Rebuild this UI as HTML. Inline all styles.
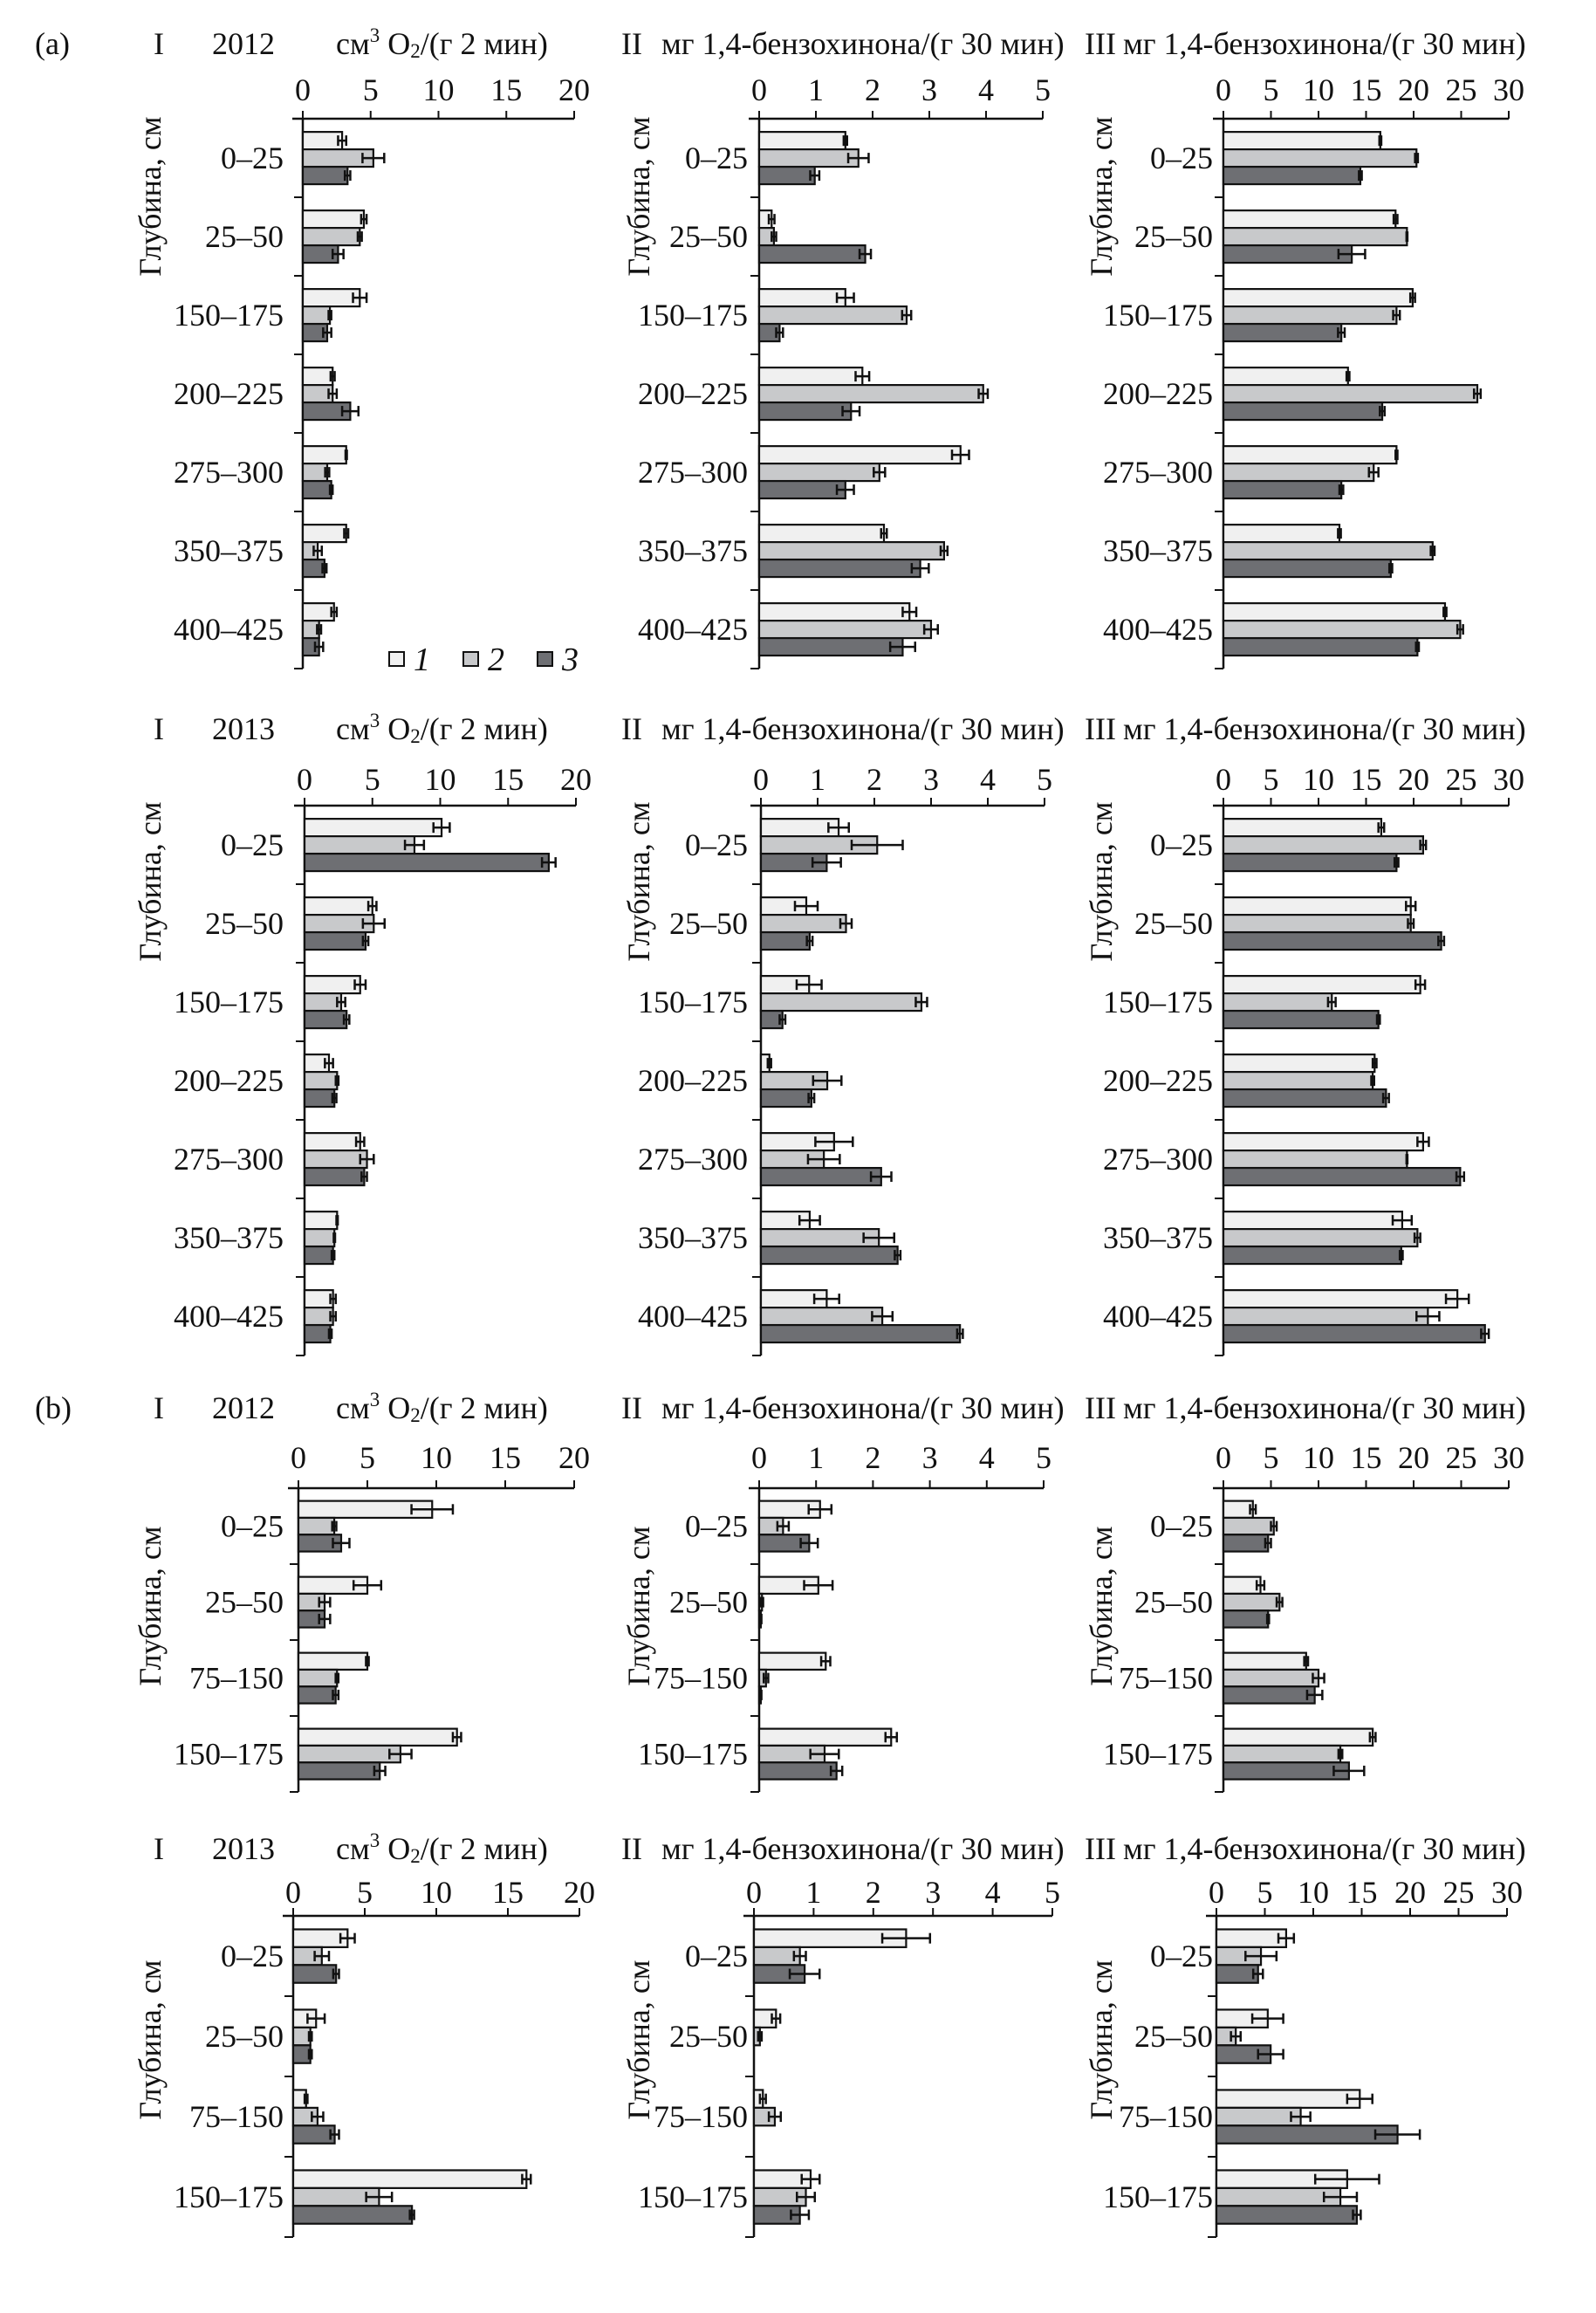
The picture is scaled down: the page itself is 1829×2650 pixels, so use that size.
<!DOCTYPE html>
<html><head><meta charset="utf-8">
<style>
html,body{margin:0;padding:0;background:#fff;}
svg{display:block;}
text{font-family:"Liberation Serif","DejaVu Serif",serif;fill:#111;}
</style></head>
<body>
<svg id="fig" width="1829" height="2650" viewBox="0 0 1829 2650" xmlns="http://www.w3.org/2000/svg"></svg>
<script>
// ---- categories ----
const catsA = ["0–25","25–50","150–175","200–225","275–300","350–375","400–425"];
const catsB = ["0–25","25–50","75–150","150–175"];
// ---- axis ticks ----
const ticksI = [0,5,10,15,20];
const ticksII = [0,1,2,3,4,5];
const ticksIII = [0,5,10,15,20,25,30];

// ---- (a) 2012 ----
const a12_I_v1 = [2.9,4.5,4.2,2.2,3.2,3.2,2.3];
const a12_I_v2 = [5.2,4.2,2.0,2.2,1.8,1.1,1.2];
const a12_I_v3 = [3.3,2.6,1.8,3.5,2.1,1.6,1.2];
const a12_I_e1 = [0.3,0.2,0.5,0.15,0.05,0.15,0.2];
const a12_I_e2 = [0.8,0.15,0.1,0.3,0.15,0.3,0.15];
const a12_I_e3 = [0.2,0.4,0.3,0.6,0.1,0.15,0.3];
const a12_II_v1 = [1.52,0.22,1.52,1.82,3.55,2.2,2.65];
const a12_II_v2 = [1.75,0.26,2.6,3.95,2.12,3.26,3.03];
const a12_II_v3 = [0.98,1.87,0.36,1.62,1.52,2.84,2.53];
const a12_II_e1 = [0.03,0.05,0.15,0.12,0.15,0.05,0.12];
const a12_II_e2 = [0.18,0.04,0.08,0.08,0.1,0.06,0.12];
const a12_II_e3 = [0.08,0.1,0.06,0.15,0.15,0.15,0.22];
const a12_III_v1 = [16.5,18.1,19.9,13.1,18.2,12.2,23.3];
const a12_III_v2 = [20.3,19.3,18.2,26.7,15.8,22.0,24.9];
const a12_III_v3 = [14.4,13.5,12.4,16.7,12.4,17.6,20.4];
const a12_III_e1 = [0.1,0.2,0.25,0.15,0.1,0.15,0.15];
const a12_III_e2 = [0.15,0.05,0.35,0.35,0.5,0.2,0.3];
const a12_III_e3 = [0.15,1.4,0.35,0.25,0.2,0.15,0.15];
// ---- (a) 2013 ----
const a13_I_v1 = [10.1,5.0,4.1,1.8,4.1,2.4,2.1];
const a13_I_v2 = [8.1,5.1,2.7,2.4,4.6,2.2,2.1];
const a13_I_v3 = [18.0,4.5,3.1,2.2,4.4,2.1,1.9];
const a13_I_e1 = [0.6,0.3,0.4,0.3,0.3,0.05,0.2];
const a13_I_e2 = [0.7,0.8,0.3,0.1,0.5,0.05,0.2];
const a13_I_e3 = [0.5,0.2,0.2,0.15,0.2,0.1,0.1];
const a13_II_v1 = [1.37,0.8,0.85,0.15,1.29,0.86,1.16];
const a13_II_v2 = [2.05,1.5,2.83,1.17,1.11,2.08,2.14];
const a13_II_v3 = [1.16,0.86,0.38,0.89,2.12,2.41,3.51];
const a13_II_e1 = [0.18,0.2,0.22,0.03,0.33,0.18,0.22];
const a13_II_e2 = [0.45,0.1,0.1,0.25,0.28,0.27,0.18];
const a13_II_e3 = [0.25,0.05,0.05,0.05,0.18,0.05,0.05];
const a13_III_v1 = [16.6,19.7,20.7,15.9,21.0,18.8,24.6];
const a13_III_v2 = [21.0,19.7,11.4,15.7,19.3,20.4,21.5];
const a13_III_v3 = [18.2,22.9,16.3,17.1,24.9,18.7,27.5];
const a13_III_e1 = [0.3,0.5,0.5,0.2,0.6,1.0,1.2];
const a13_III_e2 = [0.3,0.3,0.4,0.15,0.05,0.3,1.2];
const a13_III_e3 = [0.2,0.3,0.15,0.3,0.4,0.15,0.4];
// ---- (b) 2012 ----
const b12_I_v1 = [9.7,5.0,5.0,11.5];
const b12_I_v2 = [2.6,1.9,2.8,7.4];
const b12_I_v3 = [3.1,1.9,2.7,5.9];
const b12_I_e1 = [1.5,1.0,0.1,0.3];
const b12_I_e2 = [0.15,0.4,0.1,0.8];
const b12_I_e3 = [0.6,0.4,0.2,0.4];
const b12_II_v1 = [1.07,1.04,1.17,2.32];
const b12_II_v2 = [0.42,0.05,0.12,1.15];
const b12_II_v3 = [0.88,0.03,0.03,1.36];
const b12_II_e1 = [0.2,0.25,0.08,0.1];
const b12_II_e2 = [0.1,0.02,0.04,0.25];
const b12_II_e3 = [0.15,0.01,0.01,0.1];
const b12_III_v1 = [3.1,3.9,8.7,15.7];
const b12_III_v2 = [5.3,5.9,10.0,12.3];
const b12_III_v3 = [4.7,4.7,9.6,13.2];
const b12_III_e1 = [0.3,0.4,0.2,0.3];
const b12_III_e2 = [0.3,0.3,0.6,0.2];
const b12_III_e3 = [0.3,0.1,0.8,1.6];
// ---- (b) 2013 ----
const b13_I_v1 = [3.8,1.6,0.9,16.3];
const b13_I_v2 = [2.0,1.2,1.7,6.0];
const b13_I_v3 = [3.0,1.2,2.9,8.3];
const b13_I_e1 = [0.5,0.6,0.1,0.3];
const b13_I_e2 = [0.5,0.1,0.4,0.9];
const b13_I_e3 = [0.2,0.1,0.3,0.15];
const b13_II_v1 = [2.55,0.37,0.15,0.95];
const b13_II_v2 = [0.77,0.1,0.35,0.87];
const b13_II_v3 = [0.85,0.0,0.0,0.77];
const b13_II_e1 = [0.4,0.07,0.05,0.15];
const b13_II_e2 = [0.1,0.03,0.1,0.15];
const b13_II_e3 = [0.25,0.0,0.0,0.15];
const b13_III_v1 = [7.2,5.3,14.8,13.5];
const b13_III_v2 = [4.6,2.0,8.7,12.8];
const b13_III_v3 = [4.3,5.6,18.7,14.5];
const b13_III_e1 = [0.8,1.6,1.3,3.3];
const b13_III_e2 = [1.6,0.5,1.0,1.7];
const b13_III_e3 = [0.5,1.3,2.3,0.4];

const NS = "http://www.w3.org/2000/svg";
const svg = document.getElementById('fig');
const FILLS = ["#f0f0f0","#c8c9cb","#6e6f73"];
const FS = 36;

function mk(tag, attrs, parent){
  const el = document.createElementNS(NS, tag);
  for (const k in attrs) el.setAttribute(k, attrs[k]);
  (parent||svg).appendChild(el);
  return el;
}

const rows = [
  {key:"a12", year:"2012", tag:"(a)", title:50, tick:103, axis:136, gh:90, cats:catsA, label:[0,225],
   cols:[[347,658],[870,1195],[1402,1729]], legend:true},
  {key:"a13", year:"2013", tag:"", title:835, tick:893, axis:923, gh:90, cats:catsA, label:[0,1010],
   cols:[[349,660],[872,1197],[1402,1729]]},
  {key:"b12", year:"2012", tag:"(b)", title:1613, tick:1670, axis:1705, gh:87, cats:catsB, label:[0,1840],
   cols:[[342,658],[870,1196],[1402,1729]]},
  {key:"b13", year:"2013", tag:"", title:2118, tick:2168, axis:2195, gh:92, cats:catsB, label:[0,2337],
   cols:[[336,664],[864,1206],[1394,1727]]}
];
const colDefs = [
  {id:"I", ticks:ticksI, max:20, roman:"I", rx:176, ylab:172, catR:325},
  {id:"II", ticks:ticksII, max:5, roman:"II", rx:712, ylab:732, catR:857},
  {id:"III", ticks:ticksIII, max:30, roman:"III", rx:1243, ylab:1262, catR:1390}
];
const DATA = {
  a12:{I:[[a12_I_v1,a12_I_v2,a12_I_v3],[a12_I_e1,a12_I_e2,a12_I_e3]],
       II:[[a12_II_v1,a12_II_v2,a12_II_v3],[a12_II_e1,a12_II_e2,a12_II_e3]],
       III:[[a12_III_v1,a12_III_v2,a12_III_v3],[a12_III_e1,a12_III_e2,a12_III_e3]]},
  a13:{I:[[a13_I_v1,a13_I_v2,a13_I_v3],[a13_I_e1,a13_I_e2,a13_I_e3]],
       II:[[a13_II_v1,a13_II_v2,a13_II_v3],[a13_II_e1,a13_II_e2,a13_II_e3]],
       III:[[a13_III_v1,a13_III_v2,a13_III_v3],[a13_III_e1,a13_III_e2,a13_III_e3]]},
  b12:{I:[[b12_I_v1,b12_I_v2,b12_I_v3],[b12_I_e1,b12_I_e2,b12_I_e3]],
       II:[[b12_II_v1,b12_II_v2,b12_II_v3],[b12_II_e1,b12_II_e2,b12_II_e3]],
       III:[[b12_III_v1,b12_III_v2,b12_III_v3],[b12_III_e1,b12_III_e2,b12_III_e3]]},
  b13:{I:[[b13_I_v1,b13_I_v2,b13_I_v3],[b13_I_e1,b13_I_e2,b13_I_e3]],
       II:[[b13_II_v1,b13_II_v2,b13_II_v3],[b13_II_e1,b13_II_e2,b13_II_e3]],
       III:[[b13_III_v1,b13_III_v2,b13_III_v3],[b13_III_e1,b13_III_e2,b13_III_e3]]}
};

function unitTitle(g, x, y, ci){
  const t = mk('text', {x:x, y:y, 'font-size':FS, 'dominant-baseline':'central'}, g);
  
  
  if (ci === 0){
    t.appendChild(document.createTextNode("см"));
    const s1 = mk('tspan', {'font-size':23, dy:-10}, t); s1.textContent = "3";
    const s2 = mk('tspan', {dy:10}, t); s2.textContent = " O";
    const s3 = mk('tspan', {'font-size':23, dy:8}, t); s3.textContent = "2";
    const s4 = mk('tspan', {dy:-8}, t); s4.textContent = "/(г 2 мин)";
  } else {
    t.textContent = "мг 1,4-бензохинона/(г 30 мин)";
  }
}

rows.forEach(row => {
  const rg = mk('g', {});
  
  
  if (row.tag){
    const t = mk('text', {x:40, y:row.title, 'font-size':FS, 'dominant-baseline':'central'}, rg);
    
    
    t.textContent = row.tag;
  }
  const yr = mk('text', {x:243, y:row.title, 'font-size':FS, 'dominant-baseline':'central'}, rg);
  
  
  yr.textContent = row.year;

  const n = row.cats.length;
  const bottom = row.axis + n*row.gh;
  colDefs.forEach((cd, ci) => {
    const [x0, x1] = row.cols[ci];
    const xs = v => x0 + (v/cd.max)*(x1-x0);
    const g = mk('g', {}, rg);
    
    

    const rn = mk('text', {x:cd.rx, y:row.title, 'font-size':FS, 'dominant-baseline':'central'}, g);
    
    
    rn.textContent = cd.roman;
    unitTitle(g, ci===0 ? 385 : cd.rx + (ci===1?46:44), row.title, ci);

    const ax = mk('line', {x1:x0-12, y1:row.axis, x2:x1, y2:row.axis, stroke:'#111', 'stroke-width':2.5}, g);
    
    
    cd.ticks.forEach(tv => {
      const tx = xs(tv);
      const tl = mk('line', {x1:tx, y1:row.axis, x2:tx, y2:row.axis-9, stroke:'#111', 'stroke-width':2}, g);
      
      
      const tt = mk('text', {x:tx, y:row.tick, 'font-size':FS, 'text-anchor':'middle', 'dominant-baseline':'central'}, g);
      
      
      tt.textContent = tv;
    });
    const ay = mk('line', {x1:x0, y1:row.axis, x2:x0, y2:bottom, stroke:'#111', 'stroke-width':2.5}, g);
    
    
    for (let i=1;i<=n;i++){
      const yy = row.axis + i*row.gh;
      const yt = mk('line', {x1:x0-10, y1:yy, x2:x0, y2:yy, stroke:'#111', 'stroke-width':2}, g);
      
      
    }
    const yl = mk('text', {x:0, y:0, 'font-size':FS, 'text-anchor':'middle', 'dominant-baseline':'central',
      transform:'translate(' + cd.ylab + ',' + row.label[1] + ') rotate(-90)'}, g);
    
    
    yl.textContent = "Глубина, см";

    const [vals, errs] = DATA[row.key][cd.id];
    const bh = row.gh*0.222, off = row.gh*0.168;
    row.cats.forEach((c, k) => {
      const gy = row.axis + k*row.gh;
      const cl = mk('text', {x:cd.catR, y:gy + off + 1.5*bh, 'font-size':FS, 'text-anchor':'end', 'dominant-baseline':'central'}, g);
      
      
      cl.textContent = c;
      for (let s=0;s<3;s++){
        const v = vals[s][k], e = errs[s][k];
        const by = gy + off + s*bh;
        const bar = mk('rect', {x:x0, y:by, width:Math.max(0, xs(v)-x0), height:bh, fill:FILLS[s], stroke:'#111', 'stroke-width':2.2}, g);
        
        
        if (v > 0){
          const cy = by + bh/2, ea = xs(v-e), eb = xs(v+e);
          const eg = mk('g', {stroke:'#111', 'stroke-width':2.5}, g);
          
          
          mk('line', {x1:ea, y1:cy, x2:eb, y2:cy}, eg);
          mk('line', {x1:ea, y1:cy-6, x2:ea, y2:cy+6}, eg);
          mk('line', {x1:eb, y1:cy-6, x2:eb, y2:cy+6}, eg);
        }
      }
    });
  });

  if (row.legend){
    const lg = mk('g', {}, rg);
    
    
    const lx = [446, 531, 616];
    for (let s=0;s<3;s++){
      const le = mk('g', {}, lg);
      
      
      mk('rect', {x:lx[s], y:747, width:17, height:16, fill:FILLS[s], stroke:'#111', 'stroke-width':2}, le);
      const t = mk('text', {x:lx[s]+28, y:756, 'font-size':38, 'font-style':'italic', 'dominant-baseline':'central'}, le);
      t.textContent = String(s+1);
    }
  }
});
</script>
</body></html>
